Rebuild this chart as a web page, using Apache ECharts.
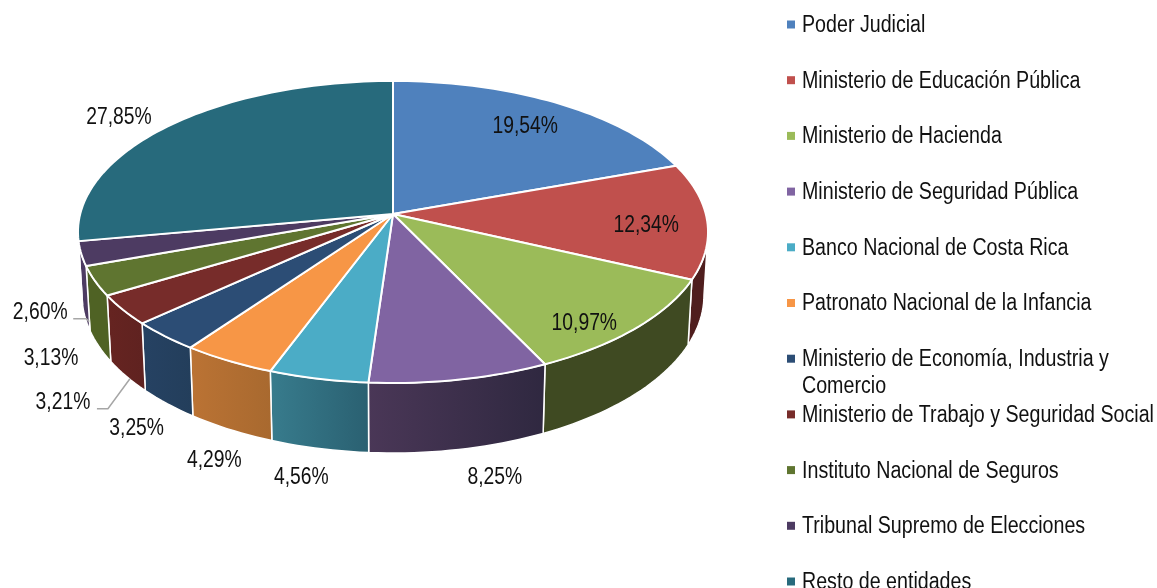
<!DOCTYPE html>
<html><head><meta charset="utf-8">
<style>html,body{margin:0;padding:0;background:#fff;overflow:hidden}#c{width:1157px;height:588px}</style>
<script src="https://cdn.jsdelivr.net/npm/echarts@6/dist/echarts.min.js"></script>
</head><body><div id="c"></div>
<script>
// ---- data ----
var categories = ['Poder Judicial','Ministerio de Educación Pública','Ministerio de Hacienda','Ministerio de Seguridad Pública','Banco Nacional de Costa Rica','Patronato Nacional de la Infancia','Ministerio de Economía, Industria y\nComercio','Ministerio de Trabajo y Seguridad Social','Instituto Nacional de Seguros','Tribunal Supremo de Elecciones','Resto de entidades'];
var values = [19.54,12.34,10.97,8.25,4.56,4.29,3.25,3.21,3.13,2.60,27.85];
// ---- styles ----
var topColors = ['#4f81bd','#c0504d','#9bbb59','#8064a2','#4bacc6','#f79646','#2c4d75','#772c2a','#5f7530','#4d3b62','#276a7c'];
var wallFrom = ['#2a4566','#4f1e1e','#3f4a22','#4a3757','#387c8d','#bb7334','#264263','#662421','#4f6224','#4d3b62','#1e5361'];
var wallTo   = ['#2a4566','#4f1e1e','#3f4a22','#2f2840','#2a6071','#a8692f','#233e5b','#5f2220','#4f6224','#4d3b62','#1e5361'];
// label offsets from the rim point at each slice's mid angle
var labelOffsets = [[-32,23.5],[-61,4.5],[-52,-4.5],[35,97.5],[-17,98.5],[-14,99.5],[-28,93],[-60,92.5],[-44,77.5],[-41,58.5],[-51,-7.5]];
var leaderOffsets = {7:[[-26,99],[-15,99],[7,69]],9:[[-8,65],[5,65],[8,68]]};
// ---- pie geometry (perspective disc) ----
var CX=393, TOPY=214, BOTY=276.2, A=312.8, A2=308.8, B=148.9, B2=155.8, P=0.119;
// ---- legend layout ----
var LEG_X=787, LEG_TEXT_X=802, LEG_Y0=24, LEG_STEP=55.7;
var FONT='"Liberation Sans"';
var total = values.reduce(function(s,v){return s+v;},0);
function proj(deg,isBottom){
  var t=deg*Math.PI/180,u=Math.sin(t),v=-Math.cos(t),d=1-P*v;
  return isBottom?[CX+A2*u/d,BOTY+B2*v/d]:[CX+A*u/d,TOPY+B*v/d];
}
function arc(a0,a1,isBottom){
  var n=Math.max(2,Math.ceil(Math.abs(a1-a0)/1.5)),pts=[];
  for(var i=0;i<=n;i++)pts.push(proj(a0+(a1-a0)*i/n,isBottom));
  return pts;
}
var WALL_L=90+Math.asin(P)*180/Math.PI, WALL_R=360-WALL_L;
function makeRender(idx){
  return function(params,api){
    var before=0;for(var i=0;i<idx;i++)before+=values[i];
    var val=api.value(0);
    var a0=before/total*360,a1=(before+val)/total*360,children=[];
    var w0=Math.max(a0,WALL_L),w1=Math.min(a1,WALL_R);
    if(w1>w0){
      children.push({type:'polygon',z2:1,shape:{points:arc(w0,w1,false).concat(arc(w1,w0,true))},
        style:{fill:{type:'linear',x:0,y:0,x2:1,y2:0,colorStops:[{offset:0,color:wallFrom[idx]},{offset:1,color:wallTo[idx]}]},stroke:'#fff',lineWidth:1.5,lineJoin:'round'}});
    }
    children.push({type:'polygon',z2:2,shape:{points:[[CX,TOPY]].concat(arc(a0,a1,false))},
      style:{fill:topColors[idx],stroke:'#fff',lineWidth:2,lineJoin:'round'}});
    var mid=proj((a0+a1)/2,false),off=labelOffsets[idx];
    var lead=leaderOffsets[idx];
    if(lead){
      children.push({type:'polyline',z2:3,shape:{points:lead.map(function(p){return [mid[0]+p[0],mid[1]+p[1]];})},
        style:{fill:null,stroke:'#a6a6a6',lineWidth:1.5}});
    }
    children.push({type:'text',z2:4,x:mid[0]+off[0],y:mid[1]+off[1],scaleX:0.825,
      style:{text:val.toFixed(2).replace('.',',')+'%',fill:'#111',font:'23.4px '+FONT,align:'center',verticalAlign:'middle'}});
    // legend row
    var ly=LEG_Y0+LEG_STEP*idx;
    children.push({type:'rect',z2:4,shape:{x:LEG_X,y:ly-3.5,width:8,height:8},style:{fill:topColors[idx]}});
    children.push({type:'text',z2:4,x:LEG_TEXT_X,y:ly-12,scaleX:0.836,
      style:{text:categories[idx],fill:'#111',font:'23.5px '+FONT,lineHeight:27,align:'left',verticalAlign:'top'}});
    return {type:'group',children:children};
  };
}
var series=categories.map(function(name,i){
  return {type:'custom',name:name,coordinateSystem:'none',silent:true,animation:false,
    itemStyle:{color:topColors[i]},data:[[values[i]]],renderItem:makeRender(i),clip:false};
});
var chart=echarts.init(document.getElementById('c'),null,{renderer:'canvas'});
chart.setOption({backgroundColor:'#fff',animation:false,series:series});
</script></body></html>
